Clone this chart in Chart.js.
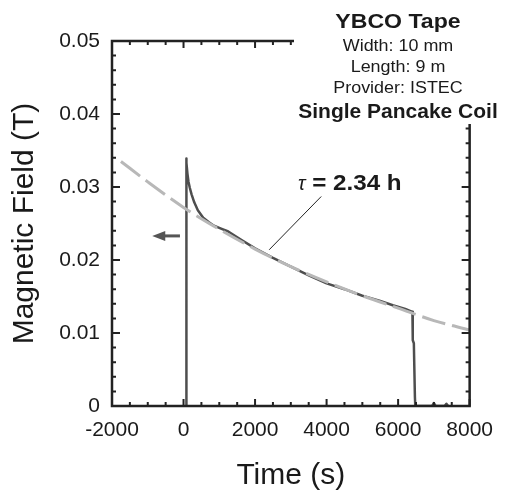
<!DOCTYPE html>
<html><head><meta charset="utf-8">
<script src="https://cdn.jsdelivr.net/npm/chart.js@4/dist/chart.umd.min.js"></script>
<style>html,body{margin:0;padding:0;background:#fff}#wrap{width:505px;height:491px;position:relative}</style>
</head><body><div id="wrap"><canvas id="c"></canvas></div>
<script>
// ---- data ----
const timeData  = [70, 72, 90, 110, 140, 175, 225, 300, 400, 550, 700, 850, 1050, 1250, 1600, 2000, 2500, 3000, 3500, 4000, 4500, 5000, 5500, 5850, 6200, 6400, 6410, 6440, 6470, 6480, 6950, 7000, 7050, 7300, 7350, 7400];
const fieldData = [0, 0.0339, 0.0333, 0.0318, 0.0307, 0.0299, 0.0290, 0.0279, 0.0268, 0.0258, 0.0252, 0.0247, 0.0243, 0.0239, 0.0228, 0.0216, 0.0203, 0.0191, 0.0179, 0.0168, 0.0160, 0.0151, 0.0144, 0.0138, 0.0133, 0.0129, 0.0090, 0.0086, 0.0012, 0, 0, 0.0004, 0, 0, 0.0003, 0];
const fitTime   = [-1750, -1000, 0, 1000, 2000, 3000, 4000, 5000, 6000, 7000, 8000];
const fitField  = [0.0335, 0.0307, 0.0272, 0.0242, 0.0215, 0.0191, 0.0170, 0.0151, 0.0134, 0.0117, 0.0104];
const xTicks = [-2000, 0, 2000, 4000, 6000, 8000];
const xTickLabels = ['-2000', '0', '2000', '4000', '6000', '8000'];
const yTickLabels = ['0', '0.01', '0.02', '0.03', '0.04', '0.05'];
const infoLines = ['YBCO Tape', 'Width: 10 mm', 'Length: 9 m', 'Provider: ISTEC', 'Single Pancake Coil'];
const tauLabel = ['\u03C4', ' = 2.34 h'];

const FONT = "'Liberation Sans', Arial, sans-serif";

const decor = {
  id: 'decor',
  afterDatasetsDraw(chart) {
    const {ctx, chartArea: a, scales: {x, y}} = chart;
    ctx.save();
    // frame
    ctx.strokeStyle = '#222';
    ctx.lineWidth = 2.5;
    ctx.strokeRect(a.left, a.top, a.right - a.left, a.bottom - a.top);
    // inward ticks
    ctx.lineWidth = 2;
    for (let i = 0; i <= 20; i++) {
      const v = -2000 + i * 500;
      const px = x.getPixelForValue(v);
      const L = (i % 4 === 0) ? 7 : 4;
      ctx.beginPath();
      ctx.moveTo(px, a.bottom); ctx.lineTo(px, a.bottom - L);
      ctx.moveTo(px, a.top); ctx.lineTo(px, a.top + L);
      ctx.stroke();
    }
    for (let i = 0; i <= 25; i++) {
      const v = i * 0.002;
      const py = y.getPixelForValue(v);
      const L = (i % 5 === 0) ? 8 : 4;
      ctx.beginPath();
      ctx.moveTo(a.left, py); ctx.lineTo(a.left + L, py);
      ctx.moveTo(a.right, py); ctx.lineTo(a.right - L, py);
      ctx.stroke();
    }
    // info box (white background covering the frame corner)
    ctx.fillStyle = '#fff';
    ctx.fillRect(294, 0, chart.width - 294, 124);
    ctx.fillStyle = '#1a1a1a';
    ctx.textAlign = 'center';
    ctx.textBaseline = 'alphabetic';
    const specs = [
      {font: 'bold 21px ' + FONT, y: 28, sx: 1.1},
      {font: '16px ' + FONT, y: 51, sx: 1.12},
      {font: '16px ' + FONT, y: 72, sx: 1.12},
      {font: '16px ' + FONT, y: 93, sx: 1.12},
      {font: 'bold 21px ' + FONT, y: 118, sx: 1.0}
    ];
    const cx = 398;
    infoLines.forEach((t, i) => {
      const s = specs[i];
      ctx.save();
      ctx.font = s.font;
      ctx.translate(cx, s.y);
      ctx.scale(s.sx, 1);
      ctx.fillText(t, 0, 0);
      ctx.restore();
    });
    // tau annotation
    const tx = x.getPixelForValue(3200), ty = y.getPixelForValue(0.0296);
    ctx.textAlign = 'left';
    ctx.font = 'italic 20px ' + FONT;
    ctx.fillText(tauLabel[0], tx, ty);
    const w0 = ctx.measureText(tauLabel[0]).width;
    ctx.save();
    ctx.font = 'bold 22px ' + FONT;
    ctx.translate(tx + w0, ty);
    ctx.scale(1.1, 1);
    ctx.fillText(tauLabel[1], 0, 0);
    ctx.restore();
    // leader line
    ctx.strokeStyle = '#222';
    ctx.lineWidth = 1;
    ctx.beginPath();
    ctx.moveTo(x.getPixelForValue(3850), y.getPixelForValue(0.0287));
    ctx.lineTo(x.getPixelForValue(2395), y.getPixelForValue(0.0214));
    ctx.stroke();
    // arrow pointing to left axis
    const ay = y.getPixelForValue(0.0233);
    const ax1 = x.getPixelForValue(-100), ax0 = x.getPixelForValue(-875);
    ctx.strokeStyle = '#555';
    ctx.fillStyle = '#555';
    ctx.lineWidth = 3;
    ctx.beginPath();
    ctx.moveTo(ax1, ay); ctx.lineTo(ax0 + 8, ay);
    ctx.stroke();
    ctx.beginPath();
    ctx.moveTo(ax0, ay); ctx.lineTo(ax0 + 13, ay - 5); ctx.lineTo(ax0 + 13, ay + 5);
    ctx.closePath(); ctx.fill();
    ctx.restore();
  }
};

new Chart(document.getElementById('c'), {
  type: 'line',
  data: {
    datasets: [
      {
        label: 'Fit',
        data: fitTime.map((t, i) => ({x: t, y: fitField[i]})),
        borderColor: '#b8b8b8',
        borderWidth: 3,
        borderDash: [24, 7],
        pointRadius: 0,
        cubicInterpolationMode: 'monotone',
        fill: false
      },
      {
        label: 'Measured',
        data: timeData.map((t, i) => ({x: t, y: fieldData[i]})),
        borderColor: '#4e4e4e',
        borderWidth: 2.5,
        borderJoinStyle: 'round',
        borderCapStyle: 'round',
        pointRadius: 0,
        tension: 0,
        fill: false
      }
    ]
  },
  options: {
    responsive: true,
    maintainAspectRatio: false,
    animation: false,
    layout: {padding: {top: 41, right: 26, left: 0, bottom: 0}},
    plugins: {legend: {display: false}, tooltip: {enabled: false}},
    scales: {
      x: {
        type: 'linear',
        min: -2000, max: 8000,
        grid: {display: false, drawTicks: false},
        border: {display: false},
        ticks: {
          stepSize: 2000, padding: 12, maxRotation: 0, autoSkip: false,
          color: '#1a1a1a', font: {family: FONT, size: 21},
          callback: (v) => { const i = xTicks.indexOf(v); return i >= 0 ? xTickLabels[i] : ''; }
        },
        title: {display: true, text: 'Time (s)', color: '#1a1a1a',
          font: {family: FONT, size: 30, lineHeight: 1}, padding: {top: 0, bottom: 0}},
        afterFit: (s) => { s.height = 85; }
      },
      y: {
        type: 'linear',
        min: 0, max: 0.05,
        grid: {display: false, drawTicks: false},
        border: {display: false},
        ticks: {
          stepSize: 0.01, padding: 12,
          color: '#1a1a1a', font: {family: FONT, size: 21},
          callback: (v) => yTickLabels[Math.round(v / 0.01)]
        },
        title: {display: true, text: 'Magnetic Field (T)', color: '#1a1a1a',
          font: {family: FONT, size: 30, lineHeight: 1}, padding: {top: 10, bottom: 0}},
        afterFit: (s) => { s.width = 112; }
      }
    }
  },
  plugins: [decor]
});
</script>
</body></html>
